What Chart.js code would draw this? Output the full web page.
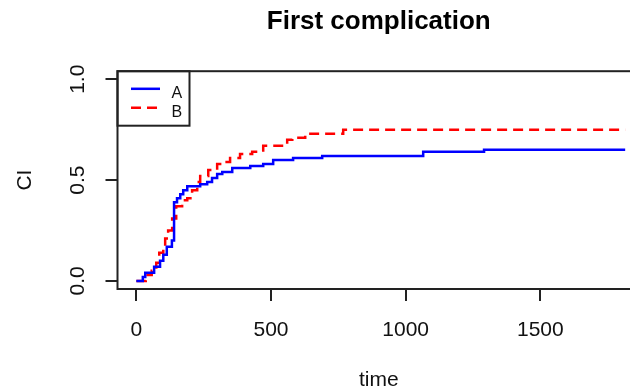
<!DOCTYPE html>
<html>
<head>
<meta charset="utf-8">
<script src="https://cdn.jsdelivr.net/npm/chart.js@4.4.1/dist/chart.umd.min.js"></script>
<style>
  html, body { margin: 0; padding: 0; background: #fff; overflow: hidden; }
  #wrap { width: 660px; height: 390px; }
</style>
</head>
<body>
<div id="wrap"><canvas id="ciChart" width="660" height="390"></canvas></div>
<script>
// cumulative incidence curves
const seriesNames = ['A', 'B'];
const timesA = [0, 24, 33, 66, 88, 100, 113, 132, 140, 151, 163, 174, 189, 237, 263, 281, 300, 319, 356, 423, 471, 508, 582, 690, 1065, 1291, 1815];
const ciA = [0, 0.02, 0.04, 0.07, 0.10, 0.13, 0.17, 0.20, 0.39, 0.41, 0.43, 0.45, 0.47, 0.48, 0.49, 0.51, 0.53, 0.54, 0.56, 0.57, 0.58, 0.60, 0.61, 0.62, 0.64, 0.65, 0.65];
const timesB = [0, 35, 57, 74, 85, 100, 107, 118, 133, 148, 170, 189, 207, 226, 237, 267, 300, 322, 348, 385, 430, 471, 560, 579, 627, 768, 1815];
const ciB = [0, 0.03, 0.05, 0.09, 0.14, 0.16, 0.21, 0.25, 0.31, 0.37, 0.40, 0.41, 0.45, 0.49, 0.52, 0.55, 0.58, 0.59, 0.61, 0.63, 0.64, 0.67, 0.70, 0.71, 0.73, 0.75, 0.75];
const xTicks = [0, 500, 1000, 1500];
const yTicks = [0, 0.5, 1.0];

const FONT = '"Liberation Sans", Arial, sans-serif';
Chart.defaults.font.family = FONT;

function toPoints(xs, ys) {
    return xs.map((t, i) => ({ x: t, y: ys[i] }));
}

// R style box around the plot plus the little legend in the corner
const boxAndLegend = {
    id: 'boxAndLegend',
    afterDraw(chart) {
        const { ctx, chartArea: a } = chart;
        ctx.save();
        ctx.strokeStyle = '#222';
        ctx.lineWidth = 2;
        ctx.strokeRect(a.left, a.top, a.right - a.left, a.bottom - a.top);
        ctx.strokeRect(a.left, a.top, 72, 54.5);
        chart.data.datasets.forEach((ds, i) => {
            const y = a.top + 17.6 + i * 19;
            ctx.strokeStyle = ds.borderColor;
            ctx.lineWidth = 2.5;
            ctx.setLineDash(ds.borderDash || []);
            ctx.beginPath();
            ctx.moveTo(a.left + 13.5, y);
            ctx.lineTo(a.left + 42.5, y);
            ctx.stroke();
            ctx.setLineDash([]);
            ctx.fillStyle = '#111';
            ctx.font = '16px ' + FONT;
            ctx.textBaseline = 'alphabetic';
            ctx.fillText(ds.label, a.left + 54, y + 9.5);
        });
        ctx.restore();
    }
};

const tickFont = { family: FONT, size: 21 };

new Chart(document.getElementById('ciChart'), {
    type: 'line',
    data: {
        datasets: [{
            label: seriesNames[0],
            data: toPoints(timesA, ciA),
            borderColor: '#0000ff',
            borderWidth: 2.5,
            stepped: 'before',
            pointRadius: 0,
            fill: false
        }, {
            label: seriesNames[1],
            data: toPoints(timesB, ciB),
            borderColor: '#ff0000',
            borderWidth: 2.5,
            borderDash: [10, 6],
            stepped: 'before',
            pointRadius: 0,
            fill: false
        }]
    },
    options: {
        responsive: false,
        animation: false,
        layout: { padding: { left: 0, right: 20, top: 0, bottom: 0 } },
        plugins: {
            legend: { display: false },
            tooltip: { enabled: false },
            title: {
                display: true,
                text: 'First complication',
                fullSize: false,
                color: '#000',
                font: { family: FONT, size: 26, weight: 'bold', lineHeight: 1.2 },
                padding: { top: 6, bottom: 34 }
            }
        },
        scales: {
            x: {
                type: 'linear',
                min: -70,
                max: 1870,
                bounds: 'data',
                afterBuildTicks: s => { s.ticks = xTicks.map(v => ({ value: v })); },
                afterFit: s => { s.height = 101; },
                ticks: {
                    font: tickFont, color: '#111', padding: 17,
                    autoSkip: false, maxRotation: 0,
                    callback: v => String(v)
                },
                grid: { drawOnChartArea: false, tickLength: 12, lineWidth: 2, color: '#222' },
                border: { display: false },
                title: {
                    display: true, text: 'time', color: '#111',
                    font: { family: FONT, size: 21, lineHeight: 1 },
                    padding: { top: 0, bottom: -1 }
                }
            },
            y: {
                type: 'linear',
                min: -0.04,
                max: 1.04,
                bounds: 'data',
                afterBuildTicks: s => { s.ticks = yTicks.map(v => ({ value: v })); },
                afterFit: s => { s.width = 117.5; },
                ticks: {
                    font: tickFont, color: '#111', padding: 13,
                    minRotation: 90, maxRotation: 90, crossAlign: 'center',
                    callback: v => v.toFixed(1)
                },
                grid: { drawOnChartArea: false, tickLength: 12, lineWidth: 2, color: '#222' },
                border: { display: false },
                title: {
                    display: true, text: 'CI', color: '#111',
                    font: { family: FONT, size: 21, lineHeight: 1 },
                    padding: { top: 15, bottom: 0 }
                }
            }
        }
    },
    plugins: [boxAndLegend]
});
</script>
</body>
</html>
